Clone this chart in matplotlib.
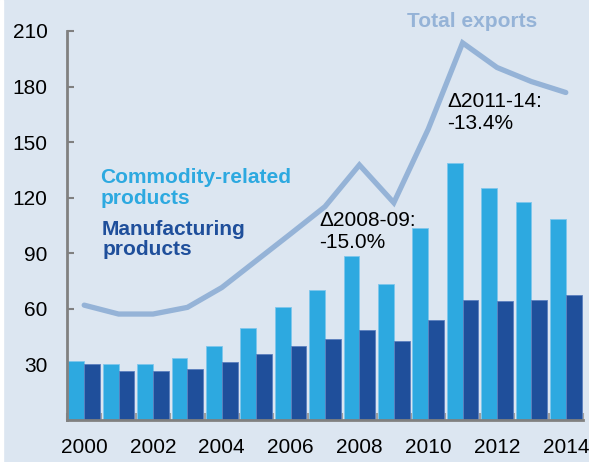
import numpy as np
import matplotlib
matplotlib.use("Agg")
import matplotlib.pyplot as plt

plt.rcParams['font.family'] = ['Liberation Sans', 'DejaVu Sans']

years = list(range(2000, 2015))
commodity = [32, 30.4, 30.4, 33.5, 39.8, 49.5, 60.8, 70.0, 88.4, 73.4, 103.7, 138.6, 125.4, 117.5, 108.5]
manufacturing = [30.1, 26.3, 26.3, 27.4, 31.3, 35.8, 39.8, 43.7, 48.6, 42.8, 53.8, 64.6, 64.4, 65.0, 67.3]
total = [62, 57.2, 57.2, 60.8, 71.5, 86, 100.5, 115.2, 137.7, 117.3, 157, 203.6, 190.3, 182.7, 176.8]
yticks = [30, 60, 90, 120, 150, 180, 210]

bg = "#DCE6F1"
c_light = "#2DA9E0"
c_dark = "#1F4F9B"
c_line = "#95B3D7"
fs = 15

fig = plt.figure(figsize=(5.89, 4.62), dpi=100, facecolor=bg)
ax = fig.add_axes([67/589, 42/462, 516/589, 389/462])
ax.set_facecolor(bg)

x = np.arange(len(years))
w = 0.46
ax.bar(x - w/2, commodity, w, color=c_light, edgecolor="#7EC6EC", linewidth=0.6, zorder=2)
ax.bar(x + w/2, manufacturing, w, color=c_dark, edgecolor="#5B7FBE", linewidth=0.6, zorder=2)
ax.plot(x, total, color=c_line, lw=3.8, solid_capstyle="round", solid_joinstyle="miter", zorder=3)

ax.set_xlim(-0.5, 14.5)
ax.set_ylim(0, 210)
ax.set_yticks(yticks)
ax.set_yticklabels([str(v) for v in yticks])
ax.set_xticks(x[::2])
ax.set_xticklabels([str(y) for y in years[::2]])
ax.set_xticks(np.arange(-0.5, 15, 1), minor=True)
ax.tick_params(axis="y", direction="in", length=5, width=1.5, color="#808080", labelsize=fs, pad=14)
ax.tick_params(axis="x", which="major", length=0, labelsize=fs, pad=13)
ax.tick_params(axis="x", which="minor", direction="in", length=5, width=1.5, color="#A0A0A0")

for s in ["top", "right"]:
    ax.spines[s].set_visible(False)
for s in ["left", "bottom"]:
    ax.spines[s].set_color("#808080")
    ax.spines[s].set_linewidth(2)

ax.text(11.28, 215, "Total exports", color=c_line, fontsize=fs, fontweight="bold",
        ha="center", va="center", clip_on=False)
ax.text(0.47, 136, "Commodity-related\nproducts", color=c_light, fontsize=fs, fontweight="bold",
        ha="left", va="top", linespacing=1.1)
ax.text(0.52, 108, "Manufacturing\nproducts", color=c_dark, fontsize=fs, fontweight="bold",
        ha="left", va="top", linespacing=1.1)
ax.text(6.83, 113, "\u03942008-09:\n-15.0%", color="black", fontsize=fs,
        ha="left", va="top", linespacing=1.2)
ax.text(10.55, 177, "\u03942011-14:\n-13.4%", color="black", fontsize=fs,
        ha="left", va="top", linespacing=1.2)

fig.add_artist(plt.Rectangle((0, 0), 3/589, 1, transform=fig.transFigure, color="white", zorder=0))

fig.savefig("out.png", dpi=100, facecolor=bg)
